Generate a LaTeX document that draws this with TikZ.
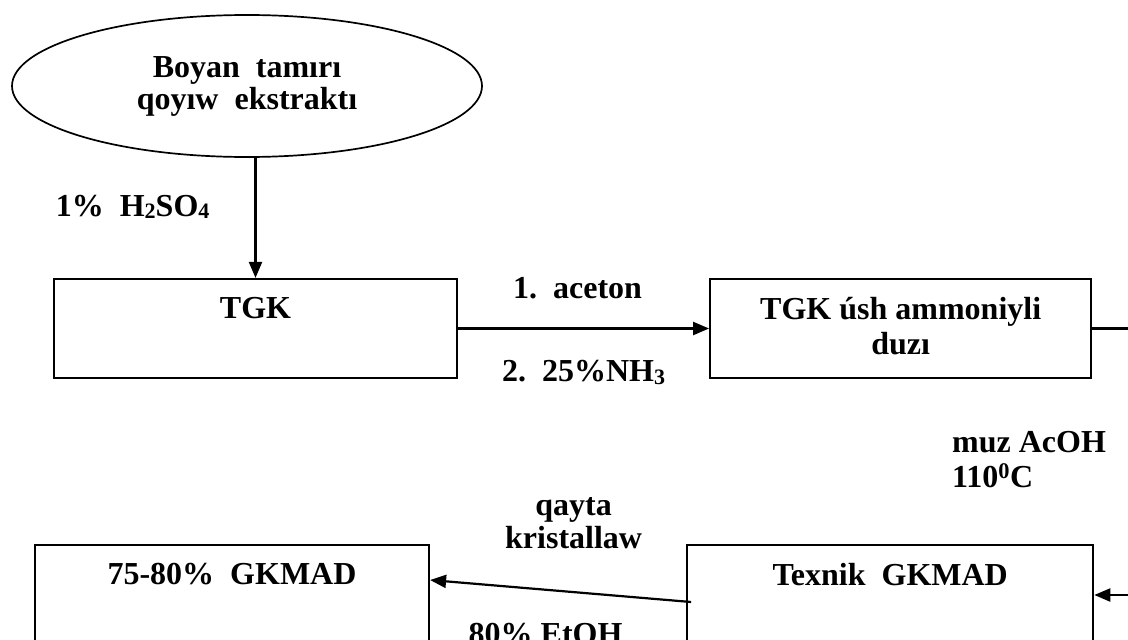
\documentclass[tikz,border=0pt]{standalone}
\usepackage{fontspec}
\setmainfont{Liberation Serif}
\usepackage{tikz}
\usetikzlibrary{shapes}
\usetikzlibrary{positioning}
\usetikzlibrary{calc}
\usetikzlibrary{arrows.meta}
\tikzstyle{source} = [ellipse,draw,line width=1.7pt,align=center,inner sep=0pt,minimum width=470pt,minimum height=142pt,font=\fontsize{32}{32}\selectfont\bfseries]
\tikzstyle{stage} = [rectangle,draw,line width=2.2pt,inner sep=0pt,minimum height=99pt]
\tikzstyle{stagetext} = [anchor=north,inner sep=0pt,align=center,yshift=-19pt]
\newcommand{\Sub}[1]{\raisebox{-2.5pt}{\fontsize{22}{22}\selectfont #1}}

\begin{document}
\begin{tikzpicture}[x=1pt,y=-1pt,font=\fontsize{32}{35}\selectfont\bfseries]
	
	\tikzstyle{arrow}=[-{Triangle[length=16pt,width=13pt]},line width=2.2pt];
	\tikzstyle{cond}=[inner sep=0pt,align=center];
	
	\useasboundingbox (0,0) rectangle (1128,640);
	
	\node (1) [source] at (247,86) {Boyan~~tamırı\\qoyıw~~ekstraktı};
	\node (2) [stage,minimum width=403pt,label={[stagetext]north:TGK}] at (255.5,328.5) {};
	\node (3) [stage,minimum width=381pt,right=251pt of 2,label={[stagetext]north:TGK úsh ammoniyli\\duzı}] {};
	\node (5) [stage,minimum width=394pt,minimum height=100pt,label={[stagetext]north:75-80\%~~GKMAD}] at (232,595) {};
	\node (4) [stage,minimum width=406pt,minimum height=100pt,right=256pt of 5,label={[stagetext]north:Texnik~~GKMAD}] {};
	
	\path[arrow]
		(1.south -| 2.north) edge node (6) [cond,left=45pt,pos=0.41] {1\%~~H\Sub{2}SO\Sub{4}} (2.north);
	\path[arrow]
		(2) edge node (7) [cond,above=28pt,xshift=-6pt] {1.~~aceton}
		         node (8) [cond,below=31pt] {2.~~25\%NH\Sub{3}} (3);
	\draw[arrow] (3.east) -- ++(60,0) |- (4.east);
	\node (9) [cond,anchor=north west,align=left] at (952,431) {muz AcOH\\110\textsuperscript{0}C};
	\path[arrow]
		($(4.west)+(5,7)$) edge node (10) [cond,above=41pt,xshift=13pt,font=\fontsize{32}{33}\selectfont\bfseries] {qayta\\kristallaw}
		                   node (11) [cond,below=31pt,xshift=-15pt] {80\% EtOH} ($(5.east)+(0,-15)$);
\end{tikzpicture}
\end{document}
